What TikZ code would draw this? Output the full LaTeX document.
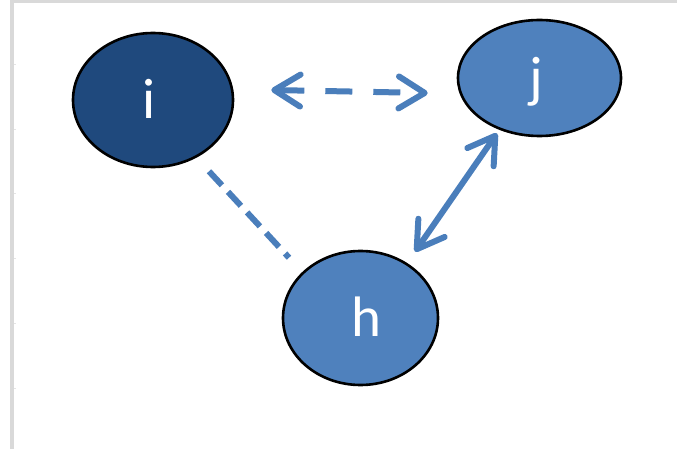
\documentclass[tikz,border=0pt]{standalone}
\usepackage{fontspec}
\setmainfont{Carlito}
\usetikzlibrary{arrows.meta,shapes.geometric}
\definecolor{darkblue}{HTML}{1F497D}
\definecolor{midblue}{HTML}{4F81BD}
\definecolor{linkblue}{HTML}{4A7EBB}
\definecolor{framegray}{HTML}{D9D9D9}
\tikzset{
  blob/.style={ellipse, draw=black, line width=2.6pt, inner sep=0pt, text=white,
    font=\fontsize{57}{57}\selectfont, text height=37pt, text depth=0pt},
  link/.style={draw=linkblue, line width=6pt},
  mybarb/.tip={Straight Barb[length=26pt, width=32pt, round]},
}
\begin{document}
\begin{tikzpicture}[x=1pt,y=-1pt]
\useasboundingbox (0,0) rectangle (677,449);
\fill[white] (0,0) rectangle (677,449);
\fill[framegray] (10,0) rectangle (677,3.3);
\fill[framegray] (10,0) rectangle (14,449);
\foreach \yy in {65,130,194,258,323,388}
  \draw[framegray!70, line width=1pt] (14,\yy) -- (15.5,\yy);

\node[blob, fill=darkblue, minimum width=160pt, minimum height=134pt] (i) at (153,100) {i\kern8pt};
\node[blob, fill=midblue, minimum width=163pt, minimum height=116pt] (j) at (539.5,78) {j\kern6pt};
\node[blob, fill=midblue, minimum width=155pt, minimum height=134pt] (h) at (360.5,318) {\kern12pt h};

\coordinate (ij1) at ([shift={(37,-10)}]i.east);
\coordinate (ij2) at ([shift={(-29,15)}]j.west);
\draw[link, dash pattern=on 27pt off 21pt, mybarb-mybarb] (ij1) -- (ij2);

\coordinate (jh1) at ([shift={(-42.5,-4)}]j.south);
\coordinate (jh2) at ([shift={(54.5,2)}]h.north);
\draw[link, mybarb-mybarb] (jh1) -- (jh2);

\coordinate (ih1) at ([shift={(56,3)}]i.south);
\coordinate (ih2) at ([shift={(-71.5,8)}]h.north);
\draw[link, dash pattern=on 19pt off 9pt] (ih1) -- (ih2);
\end{tikzpicture}
\end{document}
